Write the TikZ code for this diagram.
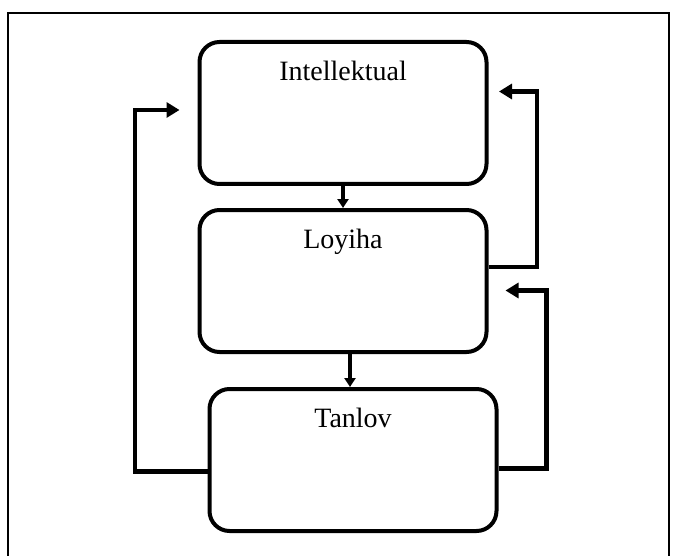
\documentclass[tikz,border=0pt]{standalone}
\usepackage{fontspec}
\setmainfont{Liberation Serif}
\usepackage{tikz}
\usetikzlibrary{arrows.meta,positioning}

\begin{document}
\begin{tikzpicture}[
  x=1pt, y=-1pt,
  node distance=22pt,
  stage/.style={draw, line width=4pt, rounded corners=20pt,
                minimum width=287pt, minimum height=142pt},
  lab/.style={anchor=north, inner sep=0pt, yshift=-21pt,
              font=\fontsize{28}{32}\selectfont},
  fb/.style={-{Triangle[length=13pt,width=15pt]}, line width=4.5pt},
  dn/.style={-{Triangle[length=9pt,width=11pt]}, line width=3.5pt}
]
\useasboundingbox (0,0) rectangle (674,556);
% frame
\draw[line width=1.5pt] (8,560) |- (669,13) -- (669,560);

\node[stage, label={[lab]north:Intellektual}] (intel) at (343,113) {};
\node[stage, below=22pt of intel, label={[lab]north:Loyiha}] (loyiha) {};
\node[stage, below=33pt of loyiha, xshift=10pt, label={[lab]north:Tanlov}] (tanlov) {};

\draw[dn] (intel.south) -- (loyiha.north);
\draw[dn] ([xshift=7pt]loyiha.south) -- ([xshift=7pt]loyiha.south |- tanlov.north);

% feedback
\draw[fb] ([yshift=14pt]loyiha.east) -- ++(48.5,0) |- ([xshift=10.5pt,yshift=21.5pt]intel.east);
\draw[fb] ([yshift=-8.5pt]tanlov.east) -- ++(48,0) |- ([xshift=17pt,yshift=-9.5pt]loyiha.east);
\draw[fb] ([yshift=-11.5pt]tanlov.west) -- ++(-72.5,0) |- ([xshift=-18pt,yshift=3pt]intel.west);
\end{tikzpicture}
\end{document}
